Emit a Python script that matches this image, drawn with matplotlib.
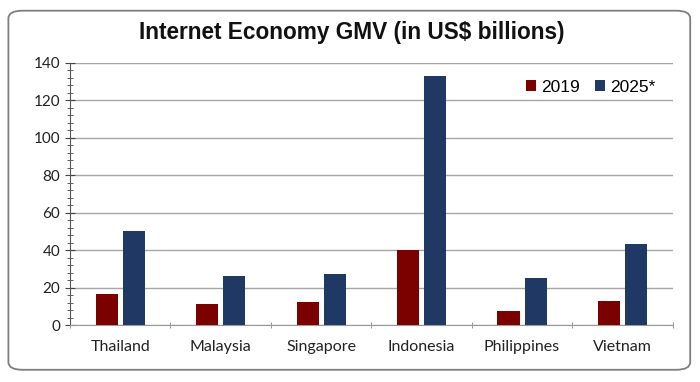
import matplotlib.pyplot as plt
import numpy as np
from matplotlib.patches import FancyBboxPatch
from matplotlib.ticker import MultipleLocator

countries = ['Thailand', 'Malaysia', 'Singapore', 'Indonesia', 'Philippines', 'Vietnam']
gmv_2019 = [16.5, 11, 12.5, 40, 7.5, 13]
gmv_2025 = [50, 26, 27, 133, 25, 43]

fig = plt.figure(figsize=(7, 3.82), dpi=100)

# rounded chart border
border = FancyBboxPatch((0.012, 0.032), 0.974, 0.94,
                        boxstyle='round,pad=0,rounding_size=0.02',
                        transform=fig.transFigure, fill=False,
                        edgecolor='#7f7f7f', linewidth=1.3)
fig.patches.append(border)

ax = fig.add_axes([0.1, 0.149, 0.861, 0.687])

x = np.arange(len(countries))
w = 0.22
ax.bar(x - 0.135, gmv_2019, w, color='#7b0000', label='2019', zorder=3)
ax.bar(x + 0.135, gmv_2025, w, color='#1f3864', label='2025*', zorder=3)

ax.set_xlim(-0.5, len(countries) - 0.5)
ax.set_ylim(0, 140)
ax.yaxis.set_major_locator(MultipleLocator(20))
ax.yaxis.set_minor_locator(MultipleLocator(4))
ax.grid(axis='y', which='major', color='#a6a6a6', linewidth=1, zorder=0)

ax.set_xticks(x)
ax.set_xticklabels(countries, fontsize=11.5, family='Lato', color='#222222')
ax.set_xticks(np.arange(len(countries) + 1) - 0.5, minor=True)
ax.tick_params(axis='x', which='major', length=0, pad=11)
ax.tick_params(axis='x', which='minor', length=5, direction='inout', color='#888888')
ax.tick_params(axis='y', which='major', length=7, direction='inout', color='#444444',
               labelsize=11, labelcolor='#222222')
ax.tick_params(axis='y', which='minor', length=4, direction='inout', color='#444444')
for lbl in ax.get_yticklabels():
    lbl.set_family('Lato')

for s in ['top', 'right']:
    ax.spines[s].set_visible(False)
ax.spines['left'].set_color('#555555')
ax.spines['bottom'].set_color('#999999')

ax.legend(loc='upper right', bbox_to_anchor=(0.997, 0.995), ncol=2, frameon=False,
          handlelength=0.55, handleheight=0.55, handletextpad=0.3,
          columnspacing=0.9, prop={'family': 'Liberation Sans', 'size': 12.5})

fig.text(0.503, 0.915, 'Internet Economy GMV (in US$ billions)', ha='center', va='center',
         fontsize=16.3, fontweight='bold', family='Liberation Sans', color='#111111')

fig.savefig('out.png', dpi=100)
